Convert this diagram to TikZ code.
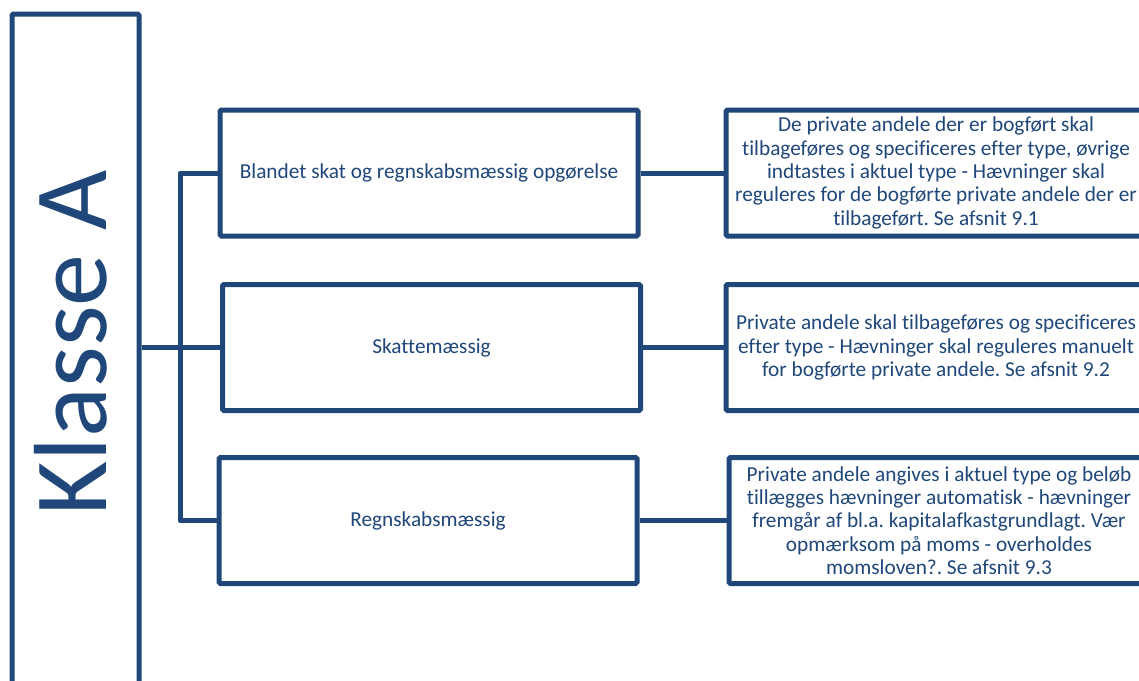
\documentclass[tikz,border=0pt]{standalone}
\usepackage{fontspec}
\setmainfont{Carlito}[Ligatures=NoCommon]
\definecolor{navy}{RGB}{31,71,122}
\frenchspacing
\begin{document}
\begin{tikzpicture}[x=1pt,y=-1pt,
  box/.style={draw=navy,line width=5pt,fill=white,rounded corners=1.5pt,inner sep=0pt,text=navy,align=center,
    font=\fontsize{21.3}{23.3}\selectfont},
  midbox/.style={box,minimum width=418pt,minimum height=126pt},
  infobox/.style={box,minimum width=420pt,minimum height=126pt},
  conn/.style={draw=navy,line width=5pt,line join=round}]
\useasboundingbox (0,0) rectangle (1139,680);
\begin{scope}
\clip (0,0) rectangle (1139,680);
\node[box,minimum width=127pt,minimum height=690pt] (k) at (75.5,359) {};
\node[text=navy,rotate=90,anchor=base,inner sep=0pt,font=\fontsize{104}{110}\selectfont] (kt) at (106,343) {Klasse A};
\node[midbox] (b1) at (429,173) {Blandet skat og regnskabsmæssig opgørelse};
\node[midbox] (b2) at (431.5,347.5) {Skattemæssig};
\node[midbox] (b3) at (428,520.5) {Regnskabsmæssig};
\node[infobox] (r1) at (936,173) {De private andele der er bogført skal\\tilbageføres og specificeres efter type, øvrige\\indtastes i aktuel type - Hævninger skal\\reguleres for de bogførte private andele der er\\tilbageført. Se afsnit 9.1};
\node[infobox] (r2) at (936,347.5) {Private andele skal tilbageføres og specificeres\\efter type - Hævninger skal reguleres manuelt\\for bogførte private andele. Se afsnit 9.2};
\node[infobox] (r3) at (939,520.5) {Private andele angives i aktuel type og beløb\\tillægges hævninger automatisk - hævninger\\fremgår af bl.a. kapitalafkastgrundlagt. Vær\\opmærksom på moms - overholdes\\momsloven?. Se afsnit 9.3};
\coordinate (tr) at (180,0);
\draw[conn] (b1.west) -- (b1.west -| tr) -- (b3.west -| tr) -- (b3.west);
\draw[conn] (k.east |- b2.west) -- (b2.west);
\draw[conn] (b1.east) -- (r1.west);
\draw[conn] (b2.east) -- (r2.west);
\draw[conn] (b3.east) -- (r3.west |- b3.east);
\end{scope}
\end{tikzpicture}
\end{document}
